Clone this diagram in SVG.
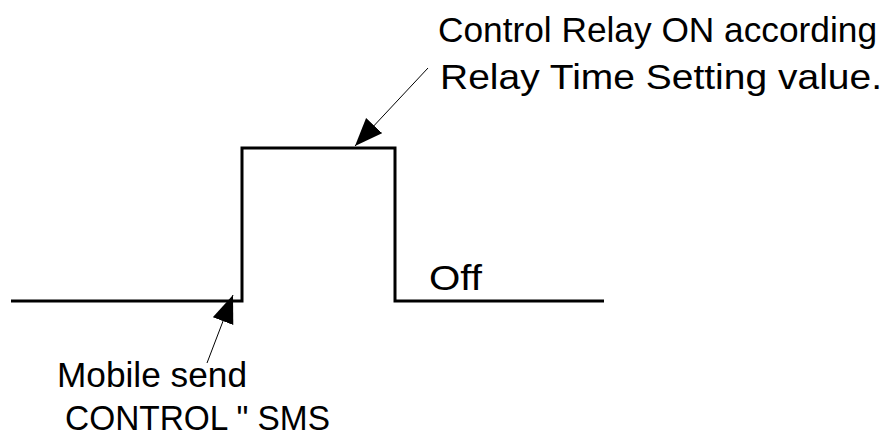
<svg xmlns="http://www.w3.org/2000/svg" width="891" height="437" viewBox="0 0 891 437">
<style>
.t{font-family:"Liberation Sans",Arial,sans-serif;font-size:35px;fill:#000}
.w{fill:none;stroke:#000;stroke-width:3;stroke-linejoin:miter}
.c{fill:none;stroke:#000;stroke-width:1}
</style>
<defs>
<marker id="ah" markerUnits="userSpaceOnUse" markerWidth="30" markerHeight="24" refX="28" refY="11" orient="auto">
<path d="M0,0 L28,11 L0,22 Z" fill="#000"/>
</marker>
</defs>
<rect width="891" height="437" fill="#fff"/>
<g id="waveform">
<polyline class="w" points="11,301 242,301 242,148 395,148 395,301 604,301"/>
</g>
<g id="label-on">
<text class="t" x="438" y="42" textLength="439" lengthAdjust="spacingAndGlyphs">Control Relay ON according</text>
<text class="t" x="440" y="89" textLength="442" lengthAdjust="spacingAndGlyphs">Relay Time Setting value.</text>
</g>
<g id="label-off">
<text class="t" x="429" y="290" textLength="53" lengthAdjust="spacingAndGlyphs">Off</text>
</g>
<g id="label-mobile">
<text class="t" x="57" y="387" textLength="190" lengthAdjust="spacingAndGlyphs">Mobile send</text>
<text class="t" x="65" y="430" textLength="265" lengthAdjust="spacingAndGlyphs">CONTROL " SMS</text>
</g>
<g id="connectors">
<line class="c" x1="428" y1="68" x2="355" y2="146" marker-end="url(#ah)"/>
<line class="c" x1="207" y1="363" x2="233" y2="295" marker-end="url(#ah)"/>
</g>
</svg>
